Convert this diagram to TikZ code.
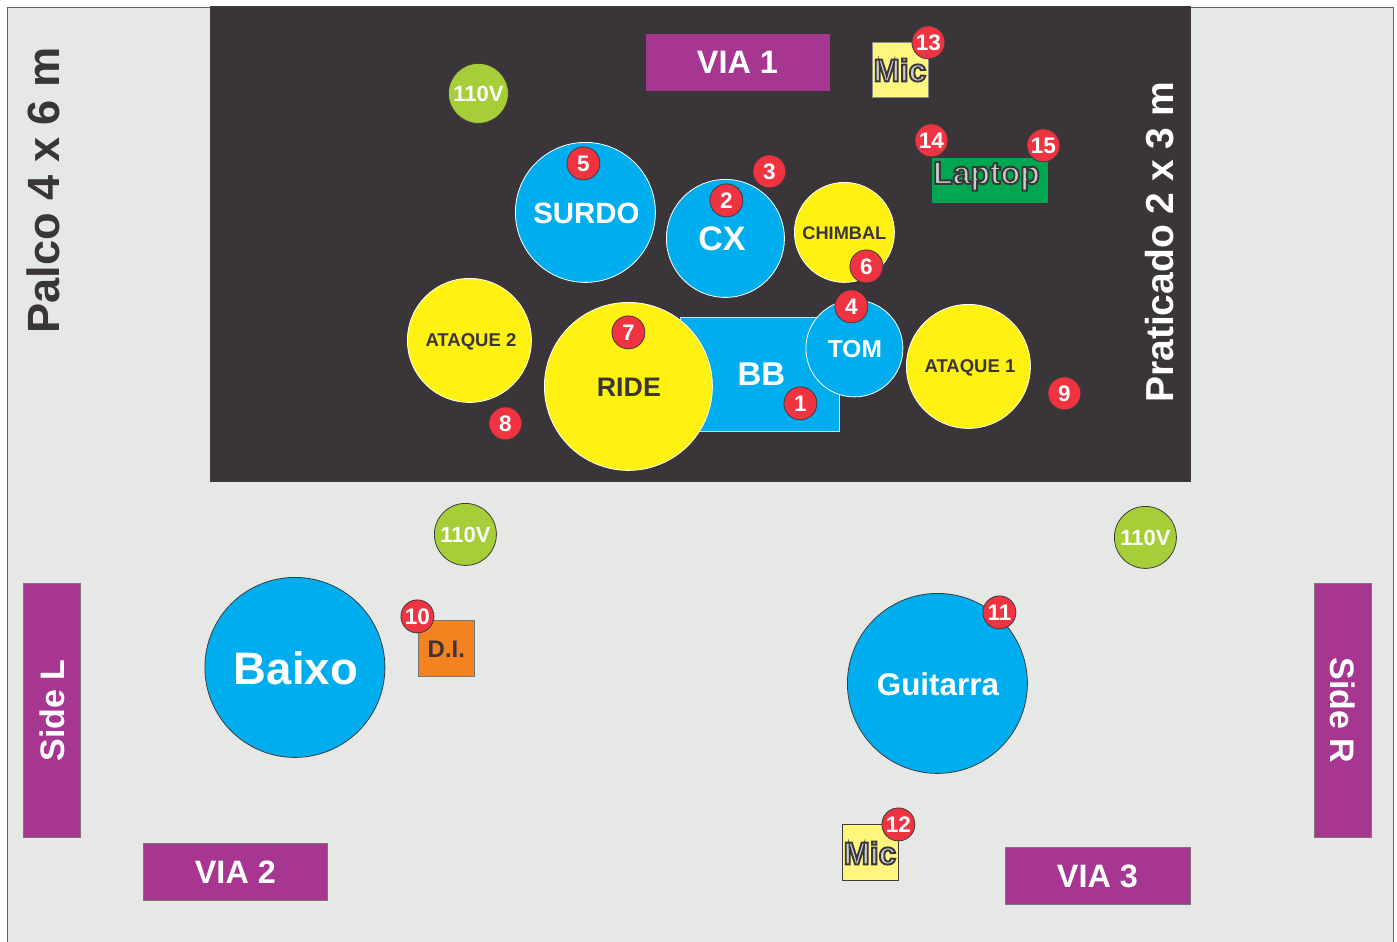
\documentclass[tikz,border=0pt]{standalone}
\usepackage{fontspec}
\setmainfont{Liberation Sans}
\newfontfamily\outlined[UprightFont={* Bold},FakeBold=6]{Liberation Sans}
\definecolor{stage}{HTML}{E6E8E6}
\definecolor{riser}{HTML}{3A3539}
\definecolor{via}{HTML}{A6368F}
\definecolor{drum}{HTML}{00AEEF}
\definecolor{cym}{HTML}{FFF212}
\definecolor{volt}{HTML}{A6CE39}
\definecolor{mark}{HTML}{EF3340}
\definecolor{micy}{HTML}{FFF57F}
\definecolor{lap}{HTML}{00A651}
\definecolor{di}{HTML}{F58220}
\definecolor{edge}{HTML}{3F3B3D}
\tikzset{
  txt/.style={inner sep=0pt,text depth=0pt,font=\bfseries\fontsize{#1}{#1}\selectfont,text=white},
  dtxt/.style={txt=#1,text=riser},
  rect/.style={draw=edge,line width=.6pt,inner sep=0pt,rectangle},
  viabox/.style={rect,fill=via,draw=edge!70},
  disc/.style={circle,inner sep=0pt,minimum size=#1,line width=.8pt},
  blue/.style={disc=#1,fill=drum,draw=white},
  bluedk/.style={disc=#1,fill=drum,draw=edge},
  yellow/.style={disc=#1,fill=cym,draw=white},
  volts/.style={disc=#1,fill=volt,draw=edge,text=white,font=\bfseries\fontsize{22}{22}\selectfont,text depth=0pt},
  badge/.style={disc=33pt,fill=mark,draw=edge,text=white,font=\bfseries\fontsize{22.5}{22.5}\selectfont,text depth=0pt},
  outl/.style={inner sep=0pt,text depth=0pt,font=\outlined\fontsize{#1}{#1}\selectfont,text=riser},
}
\newcommand{\edged}[1]{\special{pdf:bc [0.8 0.8 0.8] [0.227 0.208 0.224]}#1\special{pdf:ec}}
\begin{document}
\begin{tikzpicture}[x=1pt,y=-1pt,shift={(0.4,0.4)}]
\useasboundingbox (-0.4,-0.4) rectangle (1396.6,941.6);
\path[fill=stage,draw=edge!80,line width=.8pt] (7,7.5) rectangle (1393,960);
\clip (-0.4,-0.4) rectangle (1396.6,941.6);
\node[rect,fill=riser,draw=edge,minimum width=980pt,minimum height=475pt] (riser) at (699.5,243.5) {};
% rotated titles
\node[dtxt=45.2,rotate=90] (palco) at (43,190) {Palco 4 x 6 m};
\node[txt=39,rotate=90] (prat) at (1159,242) {Praticado 2 x 3 m};
% monitors
\node[viabox,draw=via,minimum width=183pt,minimum height=56pt,txt=32.4] (via1) at (737,62) {VIA 1};
\node[viabox,minimum width=184pt,minimum height=57pt,txt=32.4] (via2) at (235,871.5) {VIA 2};
\node[viabox,minimum width=185pt,minimum height=57pt,txt=32.4] (via3) at (1097,875.5) {VIA 3};
\node[viabox,minimum width=254pt,minimum height=57pt,txt=34,rotate=90] (sidel) at (51.5,710) {Side L};
\node[viabox,minimum width=254pt,minimum height=57pt,txt=34,rotate=-90] (sider) at (1342.5,710) {Side R};
% mics and laptop
\node[rect,fill=micy,draw=edge!60,minimum width=56pt,minimum height=55pt] (mica) at (899.5,69.5) {};
\node[outl=31.5] (micat) at (899.5,69.5) {\edged{Mic}};
\node[rect,fill=lap,draw=lap,minimum width=115pt,minimum height=44pt] (lapbox) at (989,180) {};
\node[outl=32] (laptop) at (986,172.5) {\edged{Laptop}};
% 110V
\node[volts=60pt] (va) at (478,93) {110V};
\node[volts=62pt] (vb) at (465,534) {110V};
\node[volts=62pt] (vc) at (1145,537) {110V};
% kit
\node[rect,fill=drum,draw=white!70!drum,minimum width=159pt,minimum height=114pt] (bbbox) at (759,374) {};
\node[txt=33] (bbt) at (761,374) {BB};
\node[blue=140pt] (surdo) at (585,212) {};
\node[txt=29.4] (surdot) at (586,212.5) {SURDO};
\node[blue=118pt] (cx) at (725,238) {};
\node[txt=34] (cxt) at (721.5,238.5) {CX};
\node[yellow=100pt] (chimbal) at (844,232) {};
\node[dtxt=18.2] (chimbalt) at (844,232.5) {CHIMBAL};
\node[blue=97pt] (tom) at (854,348) {};
\node[txt=24.5] (tomt) at (854.5,349) {TOM};
\node[yellow=124pt] (at2) at (469,340) {};
\node[dtxt=18.5] (at2t) at (470.5,340) {ATAQUE 2};
\node[yellow=124pt] (at1) at (968,366) {};
\node[dtxt=18.5] (at1t) at (969.5,366) {ATAQUE 1};
\node[yellow=168pt] (ride) at (628,386) {};
\node[dtxt=26.8] (ridet) at (628.5,387) {RIDE};
% amps
\node[bluedk=180pt] (baixo) at (294.5,667) {};
\node[txt=45.5] (baixot) at (295.5,668) {Baixo};
\node[bluedk=180pt] (guit) at (937,683) {};
\node[txt=31.4] (guitt) at (937.5,684) {Guitarra};
\node[rect,fill=di,draw=edge!70,minimum width=56pt,minimum height=56pt] (dibox) at (445.5,648) {};
\node[dtxt=24] (dit) at (446,649) {D.I.};
\node[rect,fill=micy,draw=edge,minimum width=56pt,minimum height=56pt] (micb) at (869.5,852) {};
\node[outl=31.5] (micbt) at (869.5,852.5) {\edged{Mic}};
% numbered badges
\foreach \n/\x/\y in {1/800/403,2/726/200,3/769/171,4/851/306,5/583/163,6/866/266,7/628/332,8/505/423,9/1064/393,10/417/616,11/999/612,12/898/824,13/928/42,14/931/140,15/1043/145}
  \node[badge] (b\n) at (\x,\y) {\n};
\end{tikzpicture}
\end{document}
